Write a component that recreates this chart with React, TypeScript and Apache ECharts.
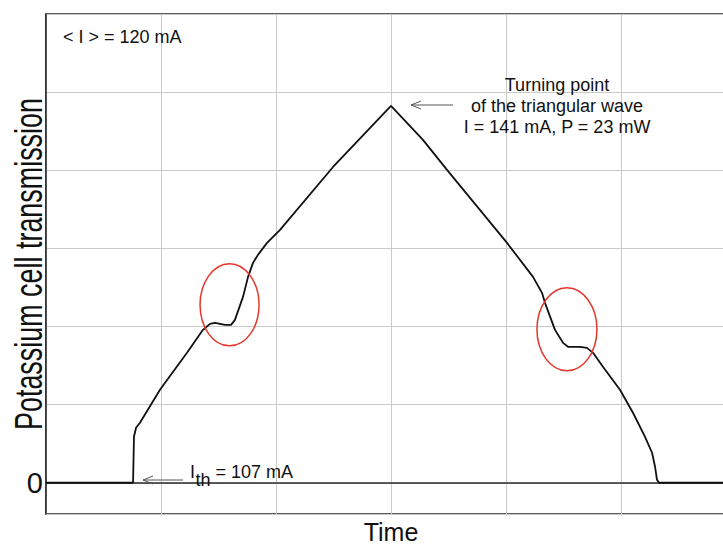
import React, { useEffect, useRef } from "react";
import * as echarts from "echarts";

// Time (arbitrary units, one grid cell = 1) and transmission (arbitrary units, 0 = dark level)
const timeValues = [
  0, 0.757, 0.765, 0.783, 0.817, 0.991, 1.226, 1.365, 1.426, 1.47, 1.557, 1.609,
  1.643, 1.713, 1.757, 1.8, 1.843, 1.922, 2.035, 2.496, 3.0, 3.278, 3.487, 4.009,
  4.235, 4.313, 4.339, 4.426, 4.496, 4.539, 4.643, 4.704, 4.757, 4.843, 4.991,
  5.104, 5.209, 5.27, 5.296, 5.313, 5.33, 6.0,
];
const transmission = [
  0, 0, 0.588, 0.704, 0.768, 1.19, 1.663, 1.957, 2.034, 2.047, 2.021, 2.021,
  2.085, 2.379, 2.635, 2.814, 2.917, 3.07, 3.237, 4.042, 4.823, 4.388, 4.004, 3.07,
  2.635, 2.431, 2.303, 1.957, 1.791, 1.74, 1.74, 1.727, 1.663, 1.484, 1.19,
  0.896, 0.588, 0.384, 0.205, 0.038, 0, 0,
];
const yTickLabels = [{ value: 0, label: "0" }];
const xTitle = "Time";
const yTitle = "Potassium cell transmission";
const noteMean = "< I > = 120 mA";
const noteTurning = ["Turning point", "of the triangular wave", "I = 141 mA, P = 23 mW"];
const noteThresholdMain = "I";
const noteThresholdSub = "th";
const noteThresholdRest = " = 107 mA";
// centres of the highlighted regions, in data units
const highlightCenters = [
  [1.596, 2.277],
  [4.53, 1.964],
];

const FONT = "'Liberation Sans', Arial, Helvetica, sans-serif";

export default function App() {
  const ref = useRef<HTMLDivElement>(null);

  useEffect(() => {
    const el = ref.current!;
    const chart = echarts.init(el, null, { renderer: "svg" });
    const curve = timeValues.map((t, i) => [t, transmission[i]]);
    const dark = "#2a2a2a";
    const gridColor = "#c9c9c9";

    chart.setOption({
      animation: false,
      backgroundColor: "#ffffff",
      grid: {
        left: 46,
        top: 14,
        width: 690,
        height: 500,
        show: true,
        borderColor: dark,
        borderWidth: 1.5,
        outerBoundsMode: "none",
      },
      xAxis: {
        type: "value",
        min: 0,
        max: 6,
        interval: 1,
        name: xTitle,
        nameLocation: "middle",
        nameGap: 5,
        nameMoveOverlap: false,
        nameTextStyle: { fontFamily: FONT, fontSize: 25, color: "#111", verticalAlign: "top" },
        axisLine: { show: true, lineStyle: { color: dark, width: 1.5 } },
        axisTick: { show: false },
        axisLabel: { show: false },
        splitLine: { show: true, lineStyle: { color: gridColor, width: 1 } },
      },
      yAxis: {
        type: "value",
        min: -0.4,
        max: 6,
        splitNumber: 6,
        axisLine: { show: true, lineStyle: { color: dark, width: 1.5 } },
        axisTick: { show: false },
        axisLabel: {
          show: true,
          margin: 3,
          fontFamily: FONT,
          fontSize: 29,
          color: "#111",
          formatter: (v: number) => {
            const hit = yTickLabels.find((t) => Math.abs(t.value - v) < 1e-9);
            return hit ? hit.label : "";
          },
        },
        splitLine: { show: true, lineStyle: { color: gridColor, width: 1 } },
      },
      series: [
        {
          type: "line",
          data: curve,
          symbol: "none",
          showSymbol: false,
          lineStyle: { color: "#111", width: 1.8 },
          z: 3,
        },
      ],
    });

    const graphics: any[] = [];
    highlightCenters.forEach((c, i) => {
      const p = chart.convertToPixel({ gridIndex: 0 }, c) as number[];
      graphics.push({
        type: "ellipse",
        shape: { cx: p[0], cy: p[1], rx: i === 0 ? 29.5 : 30, ry: i === 0 ? 41 : 41.5 },
        style: { fill: "none", stroke: "#e3362c", lineWidth: 1.5 },
        z: 10,
      });
    });

    const arrow = (x1: number, x2: number, y: number) => [
      { type: "line", shape: { x1, y1: y, x2, y2: y }, style: { stroke: "#555", lineWidth: 1 }, z: 10 },
      {
        type: "polyline",
        shape: { points: [[x1 + 10, y - 4], [x1, y], [x1 + 10, y + 4]] },
        style: { stroke: "#555", lineWidth: 1, fill: "none" },
        z: 10,
      },
    ];

    graphics.push(...arrow(411, 453, 105));
    graphics.push(...arrow(143, 183, 480));

    const textStyle = (extra: any) => ({
      fontFamily: FONT,
      fontSize: 18,
      fill: "#111",
      ...extra,
    });

    // y-axis title (the reference glyphs are taller than they are long)
    graphics.push({
      type: "text",
      x: 28.5,
      y: 264,
      rotation: Math.PI / 2,
      scaleX: 0.69,
      style: {
        text: yTitle,
        fontFamily: FONT,
        fontSize: 39,
        fill: "#111",
        align: "center",
        verticalAlign: "middle",
      },
      z: 10,
    });

    graphics.push({
      type: "text",
      x: 63,
      y: 37,
      style: textStyle({ text: noteMean, align: "left", verticalAlign: "middle" }),
      z: 10,
    });
    graphics.push({
      type: "text",
      x: 557,
      y: 106,
      style: textStyle({ text: noteTurning.join("\n"), align: "center", verticalAlign: "middle", lineHeight: 21 }),
      z: 10,
    });
    graphics.push({
      type: "text",
      x: 190,
      y: 472,
      style: textStyle({ text: noteThresholdMain, align: "left", verticalAlign: "middle" }),
      z: 10,
    });
    graphics.push({
      type: "text",
      x: 195.5,
      y: 480,
      style: textStyle({ text: noteThresholdSub, align: "left", verticalAlign: "middle" }),
      z: 10,
    });
    graphics.push({
      type: "text",
      x: 210.5,
      y: 472,
      style: textStyle({ text: noteThresholdRest, align: "left", verticalAlign: "middle" }),
      z: 10,
    });

    chart.setOption({ graphic: graphics });

    return () => chart.dispose();
  }, []);

  return (
    <div
      ref={ref}
      style={{ position: "absolute", left: 0, top: 0, width: 723, height: 544, background: "#fff" }}
    />
  );
}
